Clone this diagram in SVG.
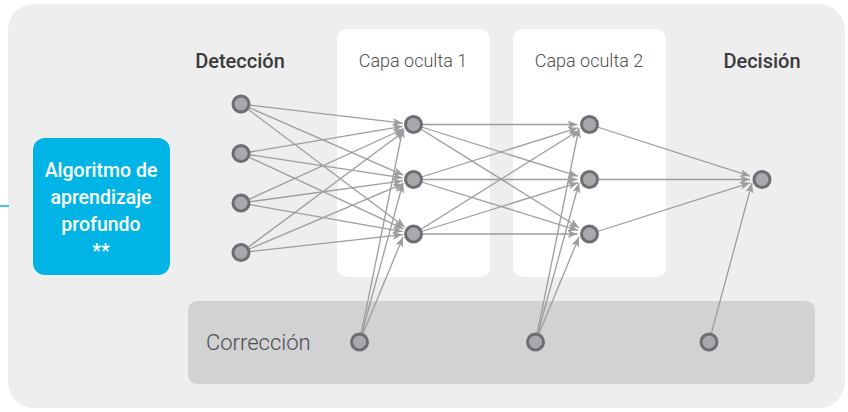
<svg xmlns="http://www.w3.org/2000/svg" width="848" height="412" viewBox="0 0 848 412">
<defs>
<marker id="ah" viewBox="0 0 10 8" refX="10" refY="4" markerWidth="10" markerHeight="8" markerUnits="userSpaceOnUse" orient="auto">
<path d="M0,0 L10,4 L0,8 L2.5,4 z" fill="#9d9d9f"/>
</marker>
<style>
.e{stroke:#9d9d9f;stroke-width:1.3;fill:none;marker-end:url(#ah)}
.n{fill:#a7a9ac;stroke:#6d6e71;stroke-width:3}
.h{font-family:Roboto,"Noto Sans",sans-serif;font-size:20px;font-weight:500;fill:#3a3a3c;text-anchor:middle}
.c{font-family:Roboto,"Noto Sans",sans-serif;font-size:18px;font-weight:300;fill:#4d4d4f;text-anchor:middle}
.b{font-family:Roboto,"Noto Sans",sans-serif;font-size:19.5px;font-weight:500;fill:#ffffff;text-anchor:middle}
</style>
</defs>
<rect x="8" y="4" width="837" height="404" rx="26" fill="#eeeeee"/>
<line x1="0" y1="206" x2="9" y2="206" stroke="#00b5e6" stroke-width="1.5"/>
<g id="col1"><rect x="337" y="29" width="153" height="248" rx="10" fill="#ffffff"/><text class="c" x="413" y="67">Capa oculta 1</text></g>
<g id="col2"><rect x="513" y="29" width="153" height="248" rx="10" fill="#ffffff"/><text class="c" x="589" y="67">Capa oculta 2</text></g>
<g id="correccion"><rect x="188" y="301" width="627" height="83" rx="9" fill="#d1d2d4"/><text x="206" y="350" font-family="Roboto,'Noto Sans',sans-serif" font-size="22" font-weight="300" fill="#4d4d4f">Corrección</text></g>
<text class="h" x="240" y="68">Detección</text>
<text class="h" x="762" y="68">Decisión</text>
<g id="algoritmo">
<rect x="33" y="138" width="137" height="137" rx="12" fill="#00b5e6"/>
<text class="b" x="101" y="177">Algoritmo de</text>
<text class="b" x="101" y="204">aprendizaje</text>
<text class="b" x="101" y="231">profundo</text>
<text class="b" x="101" y="258">**</text>
</g>
<g id="connectors">
<line class="e" x1="241" y1="104" x2="402.6" y2="123.2"/>
<line class="e" x1="241" y1="104" x2="403.4" y2="175.1"/>
<line class="e" x1="241" y1="104" x2="404.7" y2="226.9"/>
<line class="e" x1="241" y1="153.5" x2="402.6" y2="126.3"/>
<line class="e" x1="241" y1="153.5" x2="402.6" y2="177.9"/>
<line class="e" x1="241" y1="153.5" x2="403.5" y2="228.9"/>
<line class="e" x1="241" y1="203" x2="403.5" y2="129"/>
<line class="e" x1="241" y1="203" x2="402.6" y2="180.9"/>
<line class="e" x1="241" y1="203" x2="402.7" y2="231.6"/>
<line class="e" x1="241" y1="252.5" x2="404.6" y2="131"/>
<line class="e" x1="241" y1="252.5" x2="403.3" y2="183.7"/>
<line class="e" x1="241" y1="252.5" x2="402.6" y2="234.6"/>
<line class="e" x1="413.5" y1="124.5" x2="577.5" y2="124.5"/>
<line class="e" x1="413.5" y1="124.5" x2="578" y2="176.2"/>
<line class="e" x1="413.5" y1="124.5" x2="579.1" y2="227.7"/>
<line class="e" x1="413.5" y1="179.5" x2="578" y2="127.8"/>
<line class="e" x1="413.5" y1="179.5" x2="577.5" y2="179.5"/>
<line class="e" x1="413.5" y1="179.5" x2="578" y2="230.3"/>
<line class="e" x1="413.5" y1="234" x2="579.1" y2="130.3"/>
<line class="e" x1="413.5" y1="234" x2="578" y2="182.7"/>
<line class="e" x1="413.5" y1="234" x2="577.5" y2="234"/>
<line class="e" x1="589.5" y1="124.5" x2="750" y2="176.1"/>
<line class="e" x1="589.5" y1="179.5" x2="750" y2="179.5"/>
<line class="e" x1="589.5" y1="234" x2="750" y2="182.8"/>
<line class="e" x1="359.5" y1="342" x2="403" y2="128"/>
<line class="e" x1="359.5" y1="342" x2="403" y2="183"/>
<line class="e" x1="359.5" y1="342" x2="403" y2="237"/>
<line class="e" x1="535.5" y1="342" x2="579" y2="128"/>
<line class="e" x1="535.5" y1="342" x2="579" y2="183"/>
<line class="e" x1="535.5" y1="342" x2="579" y2="237"/>
<line class="e" x1="709" y1="342" x2="752" y2="183"/>
</g>
<g id="in1"><circle class="n" cx="241" cy="104" r="8"/></g>
<g id="in2"><circle class="n" cx="241" cy="153.5" r="8"/></g>
<g id="in3"><circle class="n" cx="241" cy="203" r="8"/></g>
<g id="in4"><circle class="n" cx="241" cy="252.5" r="8"/></g>
<g id="h1a"><circle class="n" cx="413.5" cy="124.5" r="8"/></g>
<g id="h1b"><circle class="n" cx="413.5" cy="179.5" r="8"/></g>
<g id="h1c"><circle class="n" cx="413.5" cy="234" r="8"/></g>
<g id="h2a"><circle class="n" cx="589.5" cy="124.5" r="8"/></g>
<g id="h2b"><circle class="n" cx="589.5" cy="179.5" r="8"/></g>
<g id="h2c"><circle class="n" cx="589.5" cy="234" r="8"/></g>
<g id="out"><circle class="n" cx="762" cy="179.5" r="8"/></g>
<g id="k1"><circle class="n" cx="359.5" cy="342" r="8"/></g>
<g id="k2"><circle class="n" cx="535.5" cy="342" r="8"/></g>
<g id="k3"><circle class="n" cx="709" cy="342" r="8"/></g>
</svg>
